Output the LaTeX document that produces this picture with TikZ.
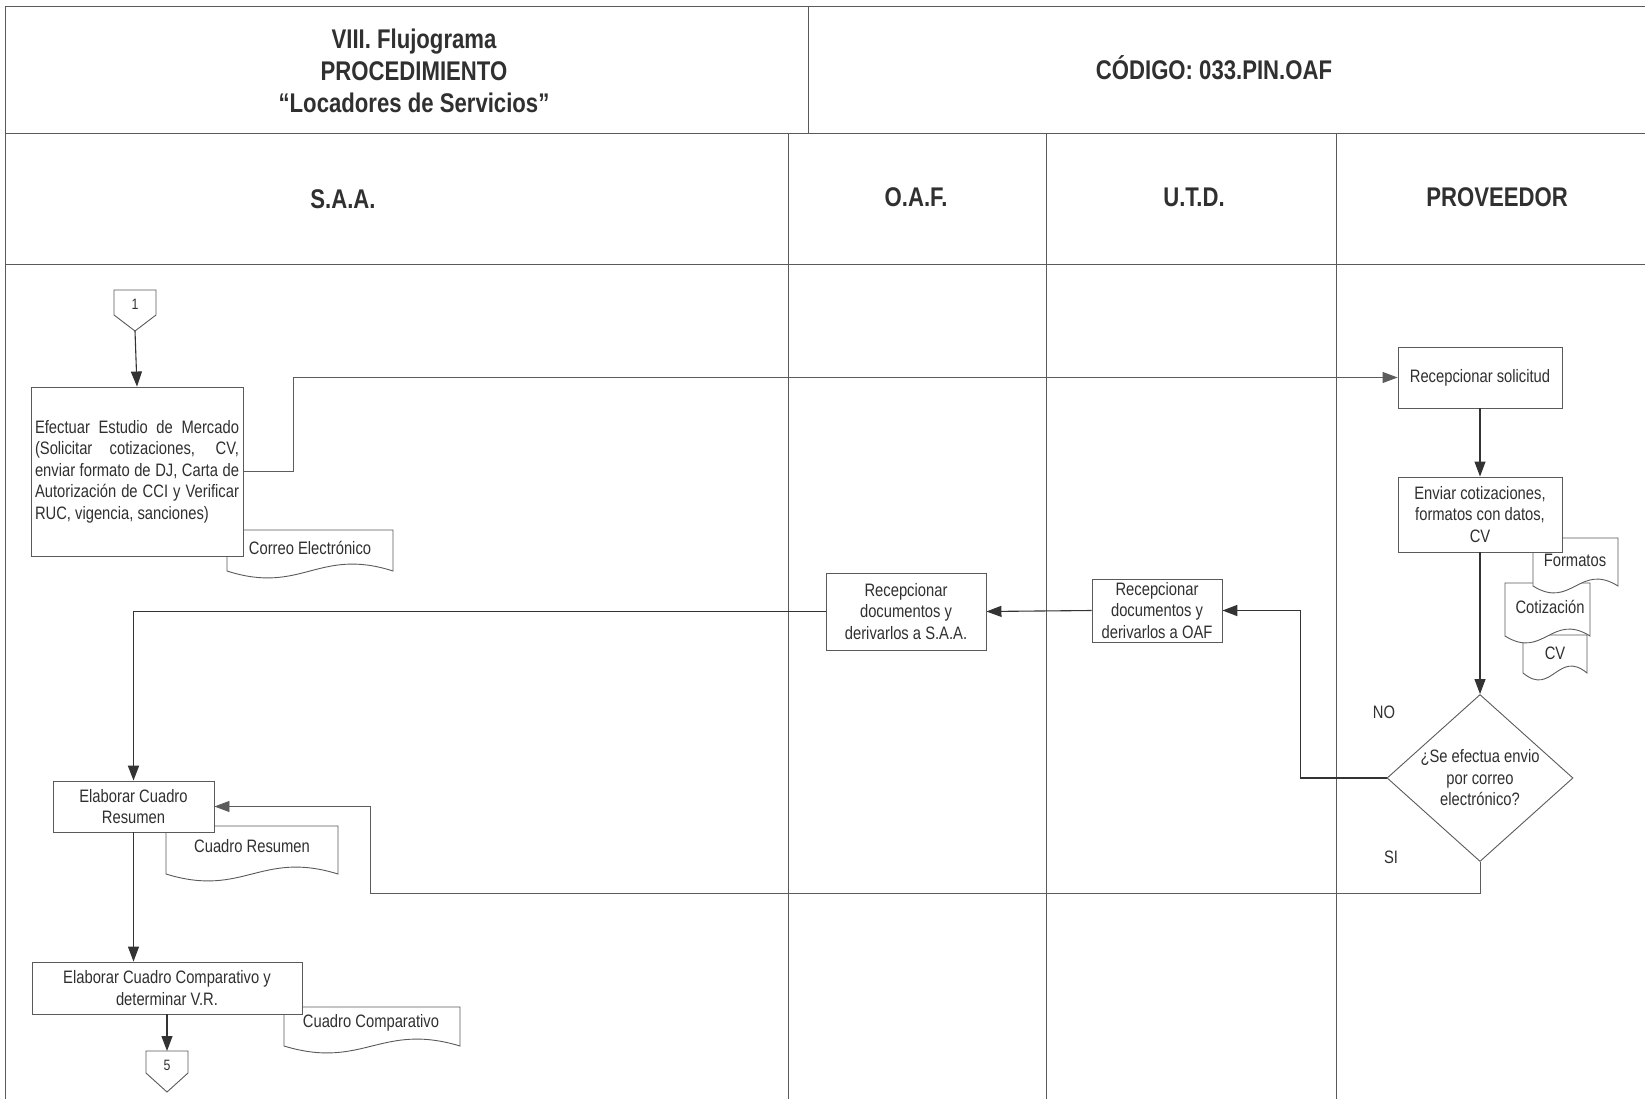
\documentclass[tikz,border=0pt]{standalone}
\usepackage{fontspec}
\setmainfont{Liberation Sans}
\newfontfamily\narrow[FakeStretch=0.82]{Liberation Sans}
\usetikzlibrary{arrows.meta,shapes.geometric,calc}

\definecolor{ink}{HTML}{303030}
\definecolor{rulec}{HTML}{5A5A5A}
\definecolor{flowc}{HTML}{333333}
\definecolor{softc}{HTML}{5C5C5C}

\tikzset{
  headtext/.style={font=\narrow\bfseries\fontsize{27}{32}\selectfont, text=ink, align=center, inner sep=0pt},
  bodytext/.style={font=\narrow\fontsize{18}{21.5}\selectfont, text=ink, inner sep=0pt},
  tasknode/.style={bodytext, draw=rulec, line width=0.9pt, fill=white, align=center},
  decision/.style={bodytext, diamond, draw=rulec, line width=0.9pt, fill=white, align=center,
    aspect=1.11, minimum width=186pt, minimum height=167pt},
  tablerule/.style={draw=rulec, line width=1pt},
  flowline/.style={draw=flowc, line width=1.1pt},
  softline/.style={draw=softc, line width=0.9pt},
  heavyline/.style={draw=flowc, line width=1.8pt},
  arr/.style={-{Triangle[length=15pt,width=11pt]}},
  docline/.style={draw=rulec, line width=0.9pt, fill=white},
  connline/.style={draw=rulec, line width=0.9pt, fill=white},
}

% document symbol: #1 left x, #2 top y, #3 right x, #4 y where the sides end
\newcommand\docshape[4]{%
  \filldraw[docline] (#1,#2) -- (#3,#2) -- (#3,#4)
    .. controls ({#3-0.45*(#3-#1)},{#4-24}) and ({#1+0.45*(#3-#1)},{#4+24}) .. (#1,#4) -- cycle;}

\begin{document}
\begin{tikzpicture}[x=1pt,y=-1pt]
\useasboundingbox (0,0) rectangle (1645,1099);
\fill[white] (0,0) rectangle (1645,1099);

% ---- table frame ----
\draw[tablerule] (5,7) -- (1645,7);
\draw[tablerule] (5,7) -- (5,1099);
\draw[tablerule] (5,134) -- (1645,134);
\draw[tablerule] (808,7) -- (808,134);
\draw[tablerule] (5,264) -- (1645,264);
\draw[tablerule] (788,134) -- (788,1099);
\draw[tablerule] (1046,134) -- (1046,1099);
\draw[tablerule] (1336,134) -- (1336,1099);

% ---- headings ----
\node[headtext] (title) at (414,71) {VIII. Flujograma\\PROCEDIMIENTO\\“Locadores de Servicios”};
\node[headtext] (code) at (1214,68) {CÓDIGO: 033.PIN.OAF};
\node[headtext] (laneSAA) at (343,199) {S.A.A.};
\node[headtext] (laneOAF) at (916,197) {O.A.F.};
\node[headtext] (laneUTD) at (1194,197) {U.T.D.};
\node[headtext] (laneProv) at (1497,197) {PROVEEDOR};

% ---- documents ----
\docshape{227}{530}{393}{571}
\node[bodytext] (docCorreo) at (310,548) {Correo Electrónico};
\docshape{1523}{635}{1587}{673}
\node[bodytext] (docCV) at (1555,653) {CV};
\docshape{1505}{583}{1590}{636}
\node[bodytext] (docCot) at (1550,607) {Cotización};
\docshape{1533}{538}{1618}{586}
\node[bodytext] (docForm) at (1575,560) {Formatos};
\docshape{166}{826}{338}{874}
\node[bodytext] (docResumen) at (252,846) {Cuadro Resumen};
\docshape{284}{1007}{460}{1046}
\node[bodytext] (docComp) at (371,1023) {Cuadro Comparativo};

% ---- off-page connectors ----
\filldraw[connline] (114,290) -- (156,290) -- (156,315) -- (135,331) -- (114,315) -- cycle;
\node[bodytext, font=\narrow\fontsize{15}{18}\selectfont] (conn1) at (135,304) {1};
\coordinate (conn1tip) at (135,331);
\filldraw[connline] (146,1051) -- (188,1051) -- (188,1073) -- (167,1092) -- (146,1073) -- cycle;
\node[bodytext, font=\narrow\fontsize{15}{18}\selectfont] (conn5) at (167,1065) {5};
\coordinate (conn5top) at (167,1051);

% ---- process steps ----
\node[tasknode, align=left, minimum width=212pt, minimum height=169pt] (estudio) at (137,471.5)
  {\makebox[204pt][s]{Efectuar Estudio de Mercado}\\
   \makebox[204pt][s]{(Solicitar cotizaciones, CV,}\\
   \makebox[204pt][s]{enviar formato de DJ, Carta de}\\
   \makebox[204pt][s]{Autorización de CCI y Verificar}\\
   RUC, vigencia, sanciones)};
\node[tasknode, minimum width=164pt, minimum height=61pt] (recep) at (1480,377.5) {Recepcionar solicitud};
\node[tasknode, minimum width=164pt, minimum height=75pt] (enviar) at (1480,514.5)
  {Enviar cotizaciones,\\formatos con datos,\\CV};
\node[decision] (envio) at (1480,778) {¿Se efectua envio\\por correo\\electrónico?};
\node[tasknode, minimum width=130pt, minimum height=63pt] (utd) at (1157,610.5)
  {Recepcionar\\documentos y\\derivarlos a OAF};
\node[tasknode, minimum width=160pt, minimum height=77pt] (oaf) at (906,611.5)
  {Recepcionar\\documentos y\\derivarlos a S.A.A.};
\node[tasknode, minimum width=161pt, minimum height=51pt] (resumen) at (133.5,806.5)
  {Elaborar Cuadro\\Resumen};
\node[tasknode, minimum width=270pt, minimum height=52pt] (comparativo) at (167,988)
  {Elaborar Cuadro Comparativo y\\determinar V.R.};

% ---- branch labels ----
\node[bodytext] (tagNo) at (1384,712) {NO};
\node[bodytext] (tagSi) at (1391,857) {SI};

% ---- flow ----
\draw[flowline, arr] (conn1tip) -- (estudio.north);
\draw[softline, arr] (estudio.east) -- ++(50,0) |- (recep.west);
\draw[flowline, arr] (recep.south) -- (enviar.north);
\draw[flowline, arr] (enviar.south) -- (envio.north);
\draw[heavyline, arr] (envio.west) -- ++(-86,0) |- (utd.east);
\draw[flowline, arr] (utd.west) -- (oaf.east);
\draw[heavyline, arr] (oaf.west) -| (resumen.north);
\coordinate (siTurn) at (370,893);
\draw[softline, arr] (envio.south) |- (siTurn) |- (resumen.east);
\draw[flowline, arr] (resumen.south) -- (resumen.south |- comparativo.north);
\draw[flowline, arr] (comparativo.south) -- (conn5top);
\end{tikzpicture}
\end{document}
